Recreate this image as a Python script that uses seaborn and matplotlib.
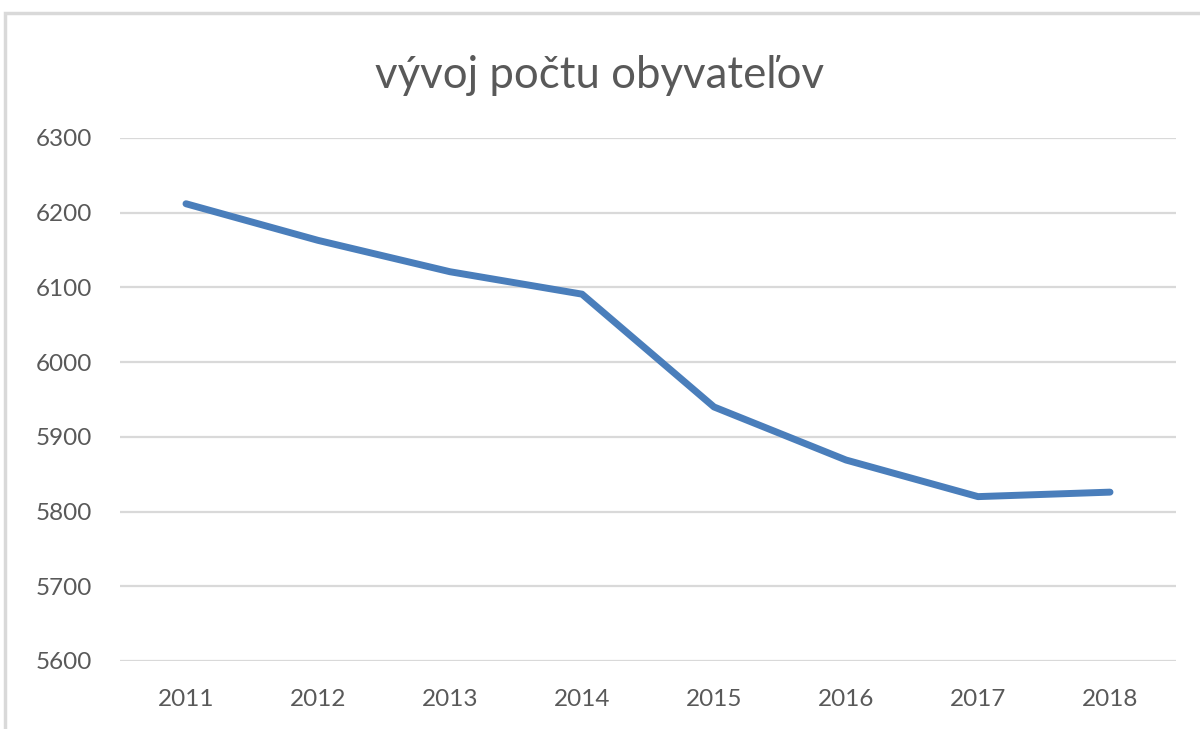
import pandas as pd
import matplotlib.pyplot as plt
import seaborn as sns
from matplotlib.patches import Rectangle

# Data
years = ['2011', '2012', '2013', '2014', '2015', '2016', '2017', '2018']
population = [6212, 6163, 6121, 6091, 5940, 5869, 5820, 5826]
yticks = [5600, 5700, 5800, 5900, 6000, 6100, 6200, 6300]

df = pd.DataFrame({'rok': years, 'obyvatelia': population})

sns.set_style('white')
plt.rcParams['font.family'] = ['Lato', 'DejaVu Sans']

text_color = '#595959'
grid_color = '#d9d9d9'

fig = plt.figure(figsize=(12, 7.29), dpi=100)
ax = fig.add_axes([0.1, 0.0933, 0.88, 0.7174])

# outer chart frame (cropped at right/bottom like the screenshot)
fig.patches.append(Rectangle((0.004, -0.05), 1.1, 1.032, transform=fig.transFigure,
                             fill=False, edgecolor=grid_color, linewidth=2.5))

sns.lineplot(data=df, x='rok', y='obyvatelia', ax=ax, color='#4a7ebb',
             linewidth=5, solid_capstyle='round', solid_joinstyle='round', sort=False)

ax.set_xlim(-0.5, len(years) - 0.5)
ax.set_ylim(yticks[0], yticks[-1])
ax.set_yticks(yticks)
ax.yaxis.grid(True, color=grid_color, linewidth=1.6)
ax.set_axisbelow(True)
for s in ax.spines.values():
    s.set_visible(False)
ax.set_xlabel('')
ax.set_ylabel('')
ax.tick_params(axis='both', length=0, labelsize=17.5, labelcolor=text_color)
ax.tick_params(axis='x', pad=20)
ax.tick_params(axis='y', pad=20)

fig.text(0.5, 0.897, 'vývoj počtu obyvateľov', ha='center', va='center',
         fontsize=31.5, color=text_color)

fig.savefig('out.png', dpi=100)
